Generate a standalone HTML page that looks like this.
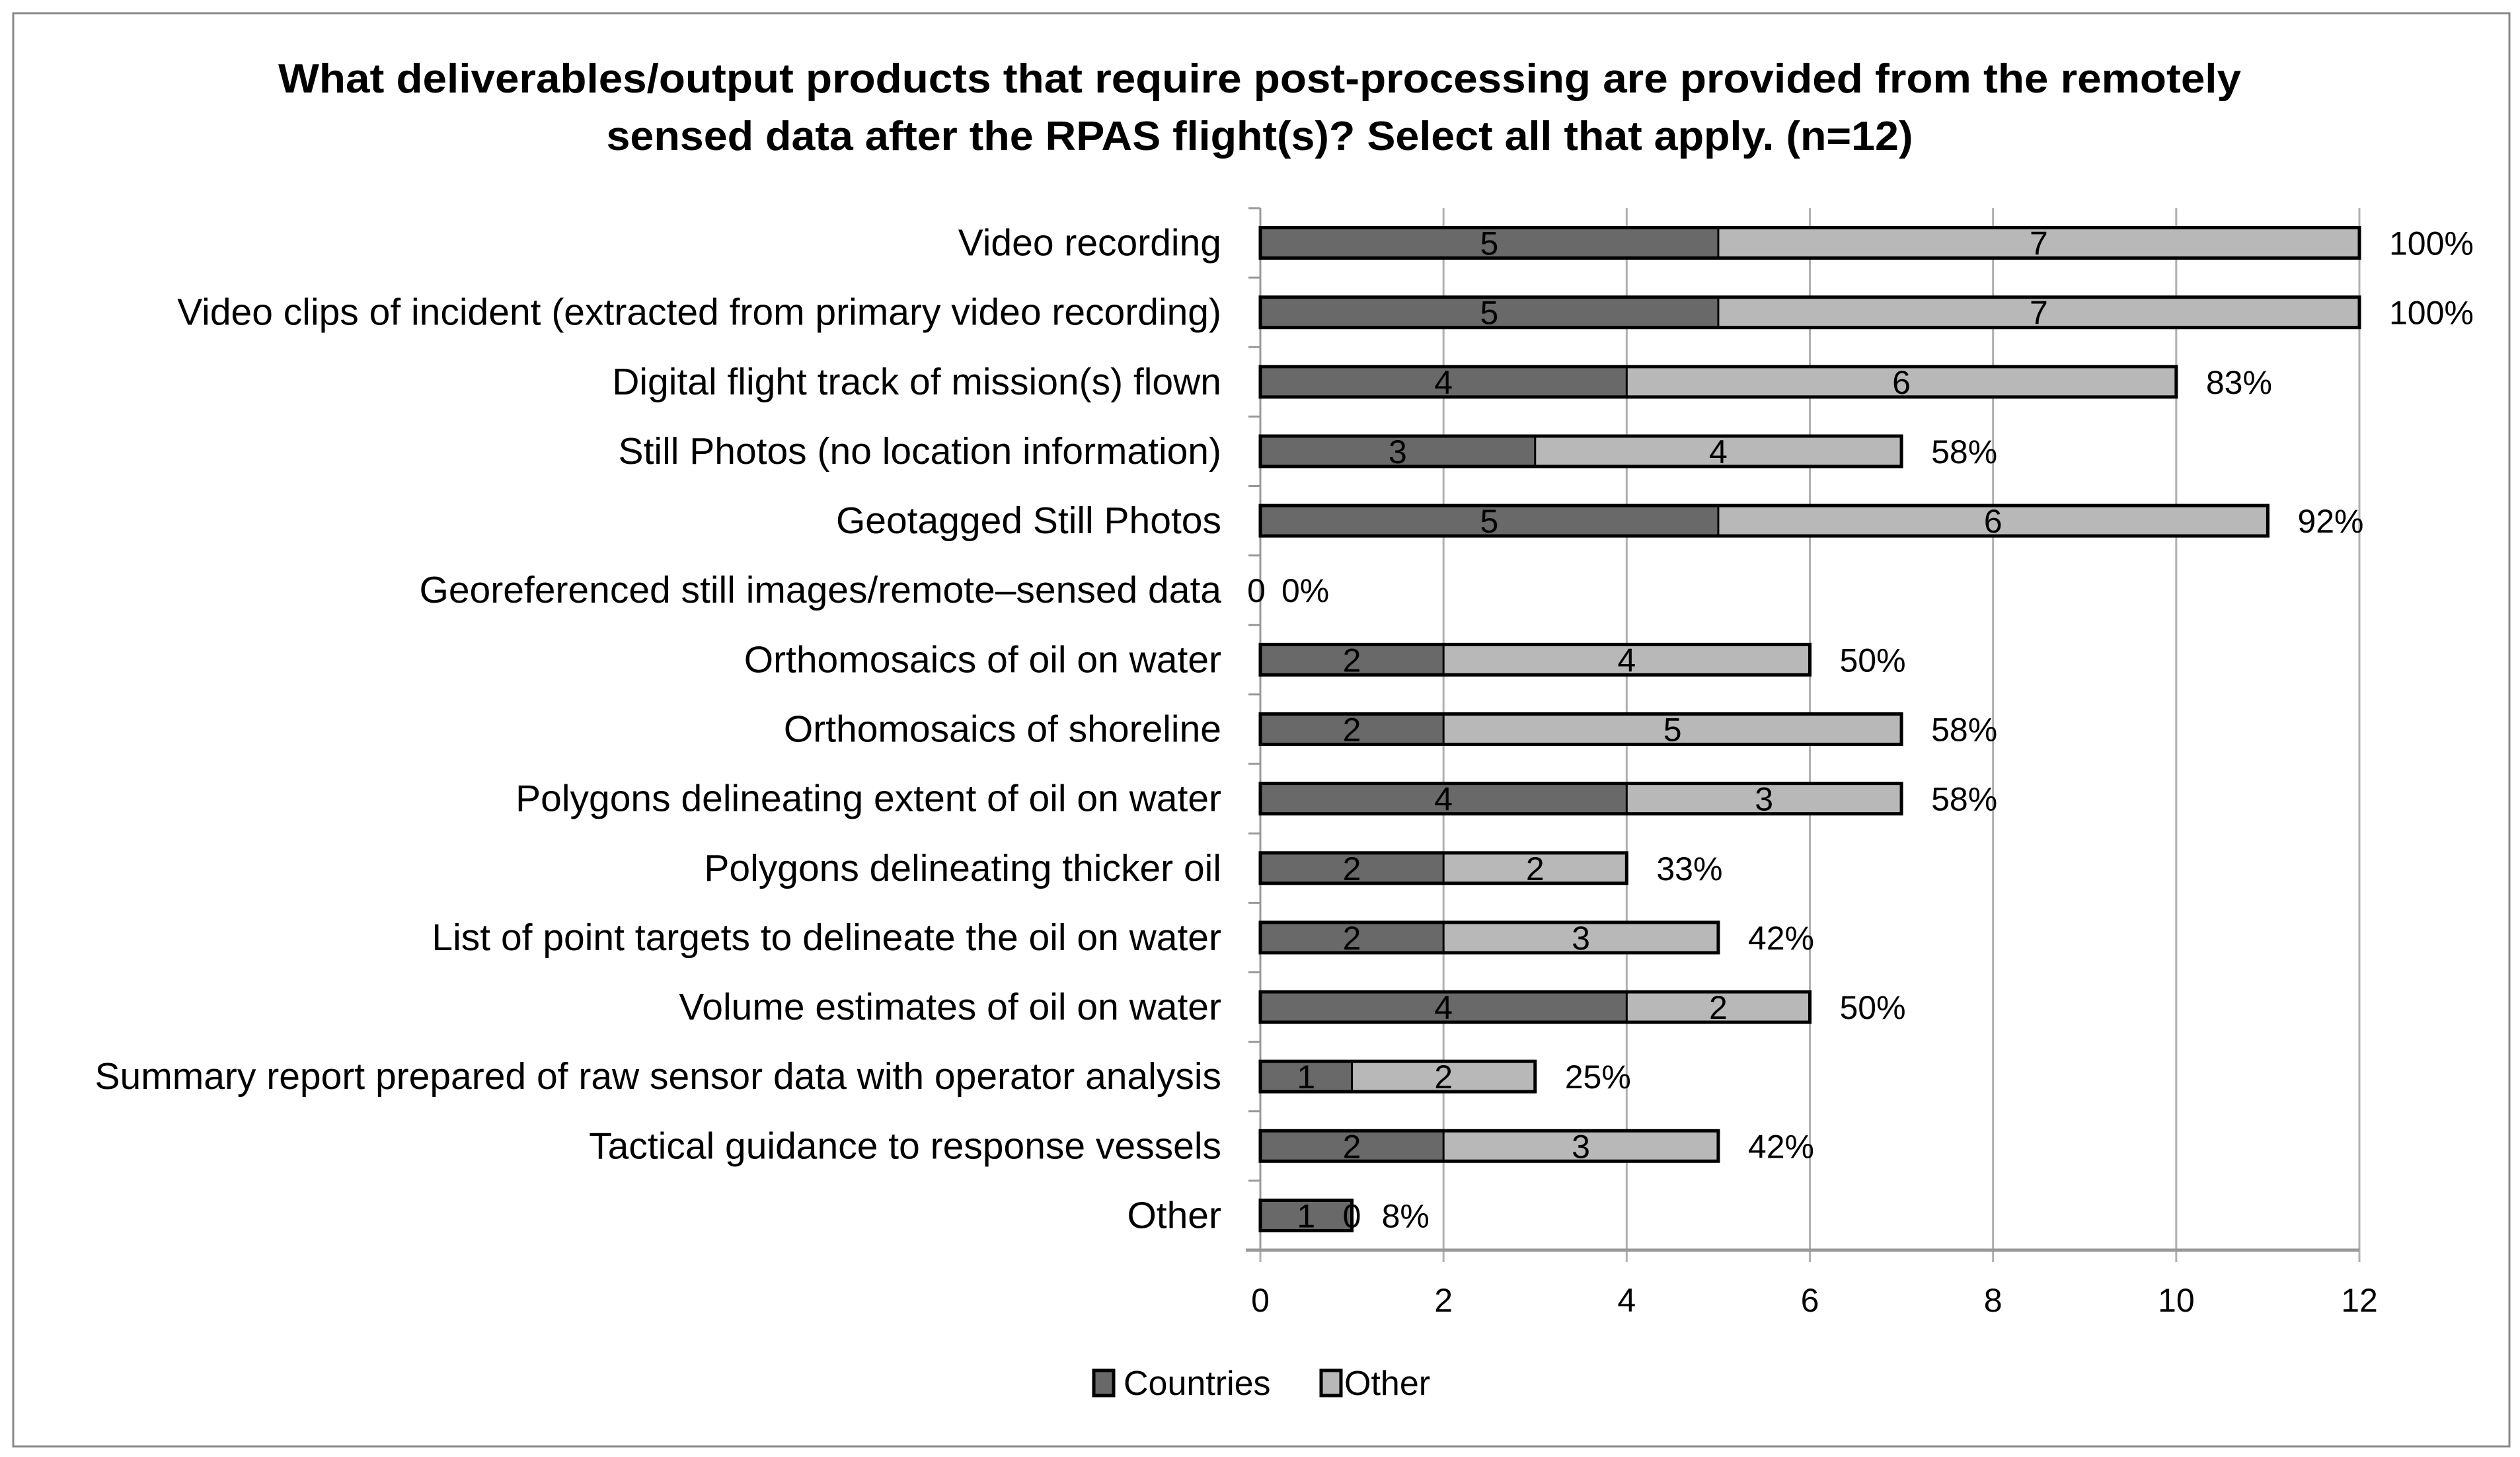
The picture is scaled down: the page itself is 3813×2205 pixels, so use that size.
<!DOCTYPE html>
<html><head><meta charset="utf-8"><style>
html,body{margin:0;padding:0;background:#fff;}
svg{display:block;font-family:"Liberation Sans",sans-serif;}
</style></head><body>
<svg id="chart" width="3813" height="2205" viewBox="0 0 3813 2205">
<rect x="20" y="20" width="3777" height="2169" fill="#fff" stroke="#888" stroke-width="3"/>
<text x="1906" y="140" text-anchor="middle" font-size="62" font-weight="bold" textLength="2970" lengthAdjust="spacingAndGlyphs">What  deliverables/output products that require post-processing are provided from the remotely</text>
<text x="1906" y="227" text-anchor="middle" font-size="62" font-weight="bold" textLength="1977" lengthAdjust="spacingAndGlyphs">sensed data after the RPAS flight(s)? Select all that apply.   (n=12)</text>
<g id="plot"></g>
</svg>
<script>
const categories = ["Video recording","Video clips of incident (extracted from primary video recording)","Digital flight track of mission(s) flown","Still Photos (no location information)","Geotagged Still Photos","Georeferenced still images/remote\u2013sensed data","Orthomosaics of oil on water","Orthomosaics of shoreline","Polygons delineating extent of oil on water","Polygons delineating thicker oil","List of point targets to delineate the oil on water","Volume estimates of oil on water","Summary report prepared of raw sensor data with operator analysis","Tactical guidance to response vessels ","Other"];
const countries = [5,5,4,3,5,0,2,2,4,2,2,4,1,2,1];
const other = [7,7,6,4,6,0,4,5,3,2,3,2,2,3,0];
const pctLabels = ["100%","100%","83%","58%","92%","0%","50%","58%","58%","33%","42%","50%","25%","42%","8%"];
const xTicks = [0,2,4,6,8,10,12];

const NS="http://www.w3.org/2000/svg";
const g=document.getElementById('plot');
const X0=1907, X1=3570, XMAX=12, YT=315, YB=1892;
const band=(YB-YT)/categories.length, barH=46;
function xs(v){return X0+(X1-X0)*v/XMAX;}
function yc(i){return YT+band*(i+0.5);}
function mk(tag,attrs){const e=document.createElementNS(NS,tag);for(const k in attrs)e.setAttribute(k,attrs[k]);g.appendChild(e);return e;}

xTicks.forEach((t,i)=>{
  const l=mk('line',{x1:xs(t),x2:xs(t),y1:YT,y2:YB+18,stroke:'#b0b0b0','stroke-width':3});
  
  
  const tx=mk('text',{x:xs(t),y:1985,'text-anchor':'middle','font-size':50});
  tx.textContent=t;
  
  
});
const ya=mk('line',{x1:X0,x2:X0,y1:YT,y2:YB,stroke:'#999','stroke-width':3});


for(let i=0;i<=categories.length;i++){
  const tk=mk('line',{x1:X0-18,x2:X0,y1:YT+band*i,y2:YT+band*i,stroke:'#999','stroke-width':3});
  
  
}
const xa=mk('line',{x1:X0-22,x2:X1,y1:YB,y2:YB,stroke:'#999','stroke-width':5});



categories.forEach((c,i)=>{
  const cy=yc(i);
  const lab=mk('text',{x:1848,y:cy+19,'text-anchor':'end','font-size':57});
  lab.textContent=c;
  
  
  const a=countries[i], b=other[i], tot=a+b;
  if(tot>0){
    const r1=mk('rect',{x:xs(0),y:cy-barH/2,width:xs(a)-xs(0),height:barH,fill:'#696969'});
    
    
    const r2=mk('rect',{x:xs(a),y:cy-barH/2,width:xs(tot)-xs(a),height:barH,fill:'#b8b8b8'});
    
    
    const ol=mk('rect',{x:xs(0),y:cy-barH/2,width:xs(tot)-xs(0),height:barH,fill:'none',stroke:'#000','stroke-width':5});
    
    
    const sep=mk('line',{x1:xs(a),x2:xs(a),y1:cy-barH/2,y2:cy+barH/2,stroke:'#000','stroke-width':3});
    
    
  }
  const v1=mk('text',{x:tot>0?(xs(0)+xs(a))/2:xs(0)-6,y:cy+18,'text-anchor':'middle','font-size':50});
  v1.textContent=a;
  
  
  if(tot>0){
    const v2=mk('text',{x:(xs(a)+xs(tot))/2,y:cy+18,'text-anchor':'middle','font-size':50});
    v2.textContent=b;
    
    
  }
  const p=mk('text',{x:xs(tot)+(tot>0?45:32),y:cy+18,'text-anchor':'start','font-size':50});
  p.textContent=pctLabels[i];
  
  
});

const lg=[["#696969","Countries",1655,1700],["#b8b8b8","Other",1999,2034]];
lg.forEach(d=>{
  const s=mk('rect',{x:d[2],y:2074,width:30,height:38,fill:d[0],stroke:'#000','stroke-width':5});
  
  
  const t=mk('text',{x:d[3],y:2111,'font-size':52});
  t.textContent=d[1];
  
  
});
</script>
</body></html>
